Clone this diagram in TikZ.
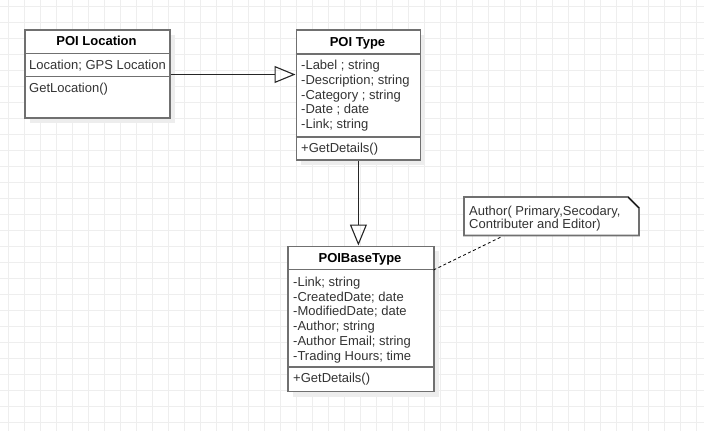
\documentclass[tikz,border=0pt]{standalone}
\usepackage{fontspec}
\setmainfont{Liberation Sans}
\usetikzlibrary{arrows.meta}
\definecolor{gridc}{HTML}{EEEEEE}
\definecolor{shadowc}{HTML}{EDEDED}
\definecolor{boxgray}{HTML}{707070}
\definecolor{txt}{HTML}{333333}
\begin{document}
\begin{tikzpicture}[x=1pt,y=-1pt,
  classbox/.style={draw=boxgray, line width=1.8pt, fill=white, rectangle, inner sep=0pt, anchor=north west},
  shadowbox/.style={fill=shadowc},
  sep/.style={draw=boxgray, line width=1.8pt},
  title/.style={font=\fontsize{13}{15}\selectfont\bfseries, text=black, inner sep=0pt, text height=9.5pt, text depth=3pt, yshift=-1.4pt},
  attr/.style={font=\fontsize{13}{15}\selectfont, text=txt, inner sep=0pt, anchor=west, text height=9.5pt, text depth=3pt, yshift=-1.4pt},
  inherit/.style={draw=black!85, line width=1.2pt, -{Triangle[open, length=21pt, width=17pt, line width=1.1pt]}},
  notebox/.style={draw=boxgray, line width=1.8pt, fill=white},
  notelink/.style={draw=black, line width=0.8pt, dash pattern=on 3pt off 2.5pt}
]
\useasboundingbox (0,0) rectangle (704,431);
\fill[white] (0,0) rectangle (704,431);
% grid
\foreach \gx in {8,24,...,700} \draw[gridc, line width=0.9pt] (\gx,0) -- (\gx,431);
\foreach \gy in {6,22,...,430} \draw[gridc, line width=0.9pt] (0,\gy) -- (704,\gy);

% ---------- POI Location ----------
\fill[shadowbox] (30,35) rectangle (175,123);
\node[classbox, minimum width=145pt, minimum height=88pt] (loc) at (24,29) {};
\draw[sep] (24,53.5) -- (169,53.5);
\draw[sep] (24,76.5) -- (169,76.5);
\node[title] (loct) at (96.5,41) {POI Location};
\node[attr] (loca1) at (29,65) {Location; GPS Location};
\node[attr] (locm1) at (29,88) {GetLocation()};

% ---------- POI Type ----------
\fill[shadowbox] (301,35) rectangle (425,165);
\node[classbox, minimum width=124pt, minimum height=130pt] (type) at (295.5,29) {};
\draw[sep] (295.5,54) -- (419.5,54);
\draw[sep] (295.5,137) -- (419.5,137);
\node[title] (typet) at (357.5,41.5) {POI Type};
\node[attr] (typea1) at (301,65) {-Label ; string};
\node[attr] (typea2) at (301,79.5) {-Description; string};
\node[attr] (typea3) at (301,94.5) {-Category ; string};
\node[attr] (typea4) at (301,109) {-Date ; date};
\node[attr] (typea5) at (301,124) {-Link; string};
\node[attr] (typem1) at (301,148) {+GetDetails()};

% ---------- POIBaseType ----------
\fill[shadowbox] (293,251) rectangle (439,397);
\node[classbox, minimum width=146pt, minimum height=145pt] (base) at (287,245.5) {};
\draw[sep] (287,269.5) -- (433,269.5);
\draw[sep] (287,367) -- (433,367);
\node[title] (baset) at (360,257.5) {POIBaseType};
\node[attr] (basea1) at (293,282) {-Link; string};
\node[attr] (basea2) at (293,296.5) {-CreatedDate; date};
\node[attr] (basea3) at (293,311) {-ModifiedDate; date};
\node[attr] (basea4) at (293,326) {-Author; string};
\node[attr] (basea5) at (293,341) {-Author Email; string};
\node[attr] (basea6) at (293,356) {-Trading Hours; time};
\node[attr] (basem1) at (293,378) {+GetDetails()};

% ---------- Note ----------
\draw[notebox] (464,197) -- (628,197) -- (639,208) -- (639,235.5) -- (464,235.5) -- cycle;
\draw[black, line width=0.7pt] (628,197) -- (639,208);
\node[attr] (notet1) at (469,210.5) {Author( Primary,Secodary,};
\node[attr] (notet2) at (469,223.5) {Contributer and Editor)};
\coordinate (noteanchor) at (502,236.5);
\coordinate (baseanchor) at (433.5,270);

% ---------- Connectors ----------
\draw[inherit] (loc.east |- 0,74.5) -- (type.west |- 0,74.5);
\draw[inherit] (type.south) -- (base.north -| type.south);
\draw[notelink] (baseanchor) -- (noteanchor);
\end{tikzpicture}
\end{document}
